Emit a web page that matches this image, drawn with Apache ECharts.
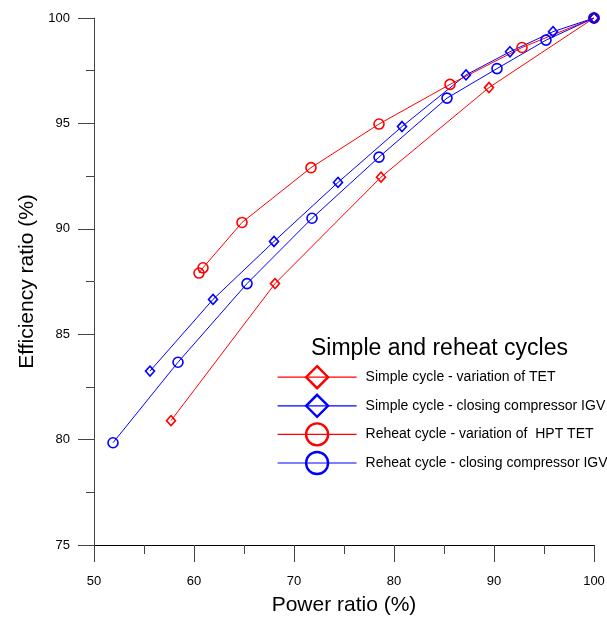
<!DOCTYPE html>
<html>
<head>
<meta charset="utf-8">
<title>Simple and reheat cycles</title>
<script src="https://cdn.jsdelivr.net/npm/echarts@6/dist/echarts.min.js"></script>
<style>
  html, body { margin: 0; padding: 0; background: #fff; }
  #chart { width: 607px; height: 617px; }
</style>
</head>
<body>
<div id="chart"></div>
<script>
// 数据：功率比 (%) 与效率比 (%)
const simpleTetPower = [57.7, 68.1, 78.7, 89.5, 100]
const simpleTetEff = [80.9, 87.4, 92.45, 96.7, 100]

const simpleIgvPower = [55.6, 61.9, 68.0, 74.4, 80.8, 87.2, 91.6, 95.9, 100]
const simpleIgvEff = [83.25, 86.65, 89.4, 92.2, 94.85, 97.3, 98.4, 99.35, 100]

const reheatTetPower = [60.5, 60.9, 64.8, 71.7, 78.5, 85.6, 92.8, 100]
const reheatTetEff = [87.9, 88.15, 90.3, 92.9, 94.97, 96.85, 98.6, 100]

const reheatIgvPower = [51.9, 58.4, 65.3, 71.8, 78.5, 85.3, 90.3, 95.2, 100]
const reheatIgvEff = [79.85, 83.67, 87.4, 90.5, 93.4, 96.2, 97.6, 98.95, 100]

const seriesNames = [
  'Simple cycle - variation of TET',
  'Simple cycle - closing compressor IGV',
  'Reheat cycle - variation of  HPT TET',
  'Reheat cycle - closing compressor IGV'
]

const zip = (xs, ys) => xs.map((x, i) => [x, ys[i]])

const font = 'Liberation Sans, Arial, sans-serif'

function lineSeries(name, data, color, symbol, size) {
  return {
    name: name,
    type: 'line',
    data: data,
    symbol: symbol,
    symbolSize: size,
    lineStyle: { color: color, width: 1 },
    itemStyle: { color: 'transparent', borderColor: color, borderWidth: 1.6 },
    emphasis: { disabled: true },
    animation: false
  }
}

const myChart = echarts.init(document.getElementById('chart'))
const option = {
  backgroundColor: '#fff',
  title: {
    text: 'Simple and reheat cycles',
    left: 311,
    top: 337,
    padding: 0,
    textStyle: { fontFamily: font, fontSize: 23, fontWeight: 'normal', color: '#000' }
  },
  legend: {
    orient: 'vertical',
    left: 277,
    top: 365,
    padding: 0,
    itemWidth: 79,
    itemHeight: 27.5,
    itemGap: 4.2,
    itemStyle: { borderWidth: 2.4 },
    lineStyle: { width: 1.2 },
    selectedMode: false,
    textStyle: { fontFamily: font, fontSize: 14, color: '#000', padding: [0, 0, 0, 4] },
    data: seriesNames
  },
  grid: {
    left: 94,
    right: 13,
    top: 18,
    bottom: 72,
    containLabel: false,
    outerBoundsMode: 'none'
  },
  xAxis: {
    type: 'value',
    min: 50,
    max: 100,
    interval: 10,
    name: 'Power ratio (%)',
    nameLocation: 'middle',
    nameGap: 50,
    nameTextStyle: { fontFamily: font, fontSize: 21, color: '#000' },
    axisLine: { show: true, onZero: false, lineStyle: { color: '#000', width: 1 } },
    axisTick: { show: true, length: 17, lineStyle: { color: '#444' } },
    minorTick: { show: true, splitNumber: 2, length: 9, lineStyle: { color: '#444' } },
    axisLabel: { fontFamily: font, fontSize: 13, color: '#000', margin: 30 },
    splitLine: { show: false }
  },
  yAxis: {
    type: 'value',
    min: 75,
    max: 100,
    interval: 5,
    name: 'Efficiency ratio (%)',
    nameLocation: 'middle',
    nameGap: 56,
    nameTextStyle: { fontFamily: font, fontSize: 21, color: '#000' },
    axisLine: { show: true, onZero: false, lineStyle: { color: '#444', width: 1 } },
    axisTick: { show: true, length: 16, lineStyle: { color: '#444' } },
    minorTick: { show: true, splitNumber: 2, length: 8, lineStyle: { color: '#444' } },
    axisLabel: { fontFamily: font, fontSize: 13, color: '#000', margin: 24 },
    splitLine: { show: false }
  },
  series: [
    lineSeries(seriesNames[0], zip(simpleTetPower, simpleTetEff), '#ff0000', 'diamond', [9, 10]),
    lineSeries(seriesNames[1], zip(simpleIgvPower, simpleIgvEff), '#0000ff', 'diamond', [9, 10]),
    lineSeries(seriesNames[2], zip(reheatTetPower, reheatTetEff), '#ff0000', 'circle', 10),
    lineSeries(seriesNames[3], zip(reheatIgvPower, reheatIgvEff), '#0000ff', 'circle', 10)
  ]
}
myChart.setOption(option)
</script>
</body>
</html>
